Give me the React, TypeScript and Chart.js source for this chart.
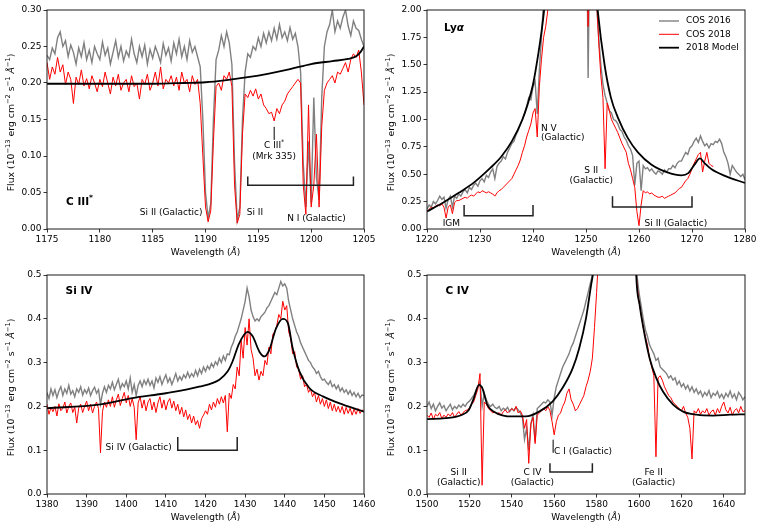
import React, { useEffect, useRef } from "react";
import { Chart, registerables } from "chart.js";
Chart.register(...registerables);

const FONT = "'DejaVu Sans', 'Liberation Sans', sans-serif";
const FS = 9;
const FSB = 10.5;

// ---------------- Panel 1: C III* ----------------
const c3Start = 1175;
const c3Step = 0.25;
const c3Cos2016 = [
  0.238, 0.232, 0.248, 0.240, 0.262, 0.270, 0.250, 0.258,
  0.236, 0.252, 0.242, 0.226, 0.248, 0.236, 0.255, 0.232,
  0.245, 0.228, 0.250, 0.240, 0.232, 0.256, 0.238, 0.248,
  0.226, 0.242, 0.258, 0.235, 0.250, 0.230, 0.244, 0.236,
  0.260, 0.240, 0.228, 0.250, 0.236, 0.252, 0.226, 0.246,
  0.234, 0.250, 0.240, 0.228, 0.254, 0.238, 0.248, 0.230,
  0.255, 0.240, 0.260, 0.236, 0.250, 0.232, 0.258, 0.242,
  0.250, 0.236, 0.222, 0.150, 0.050, 0.015, 0.035, 0.150,
  0.232, 0.245, 0.265, 0.250, 0.270, 0.255, 0.225, 0.090,
  0.012, 0.030, 0.150, 0.215, 0.240, 0.235, 0.250, 0.245,
  0.262, 0.250, 0.268, 0.255, 0.270, 0.258, 0.275, 0.260,
  0.280, 0.262, 0.270, 0.258, 0.276, 0.260, 0.268, 0.250,
  0.215, 0.090, 0.030, 0.120, 0.035, 0.180, 0.070, 0.040,
  0.180, 0.250, 0.270, 0.280, 0.300, 0.270, 0.285, 0.275,
  0.290, 0.300, 0.278, 0.265, 0.285, 0.275, 0.272, 0.260,
  0.250,
];
const c3Cos2018 = [
  0.228, 0.205, 0.222, 0.212, 0.235, 0.215, 0.225, 0.198,
  0.215, 0.205, 0.172, 0.208, 0.198, 0.218, 0.196, 0.206,
  0.192, 0.210, 0.200, 0.188, 0.205, 0.195, 0.215, 0.200,
  0.185, 0.208, 0.196, 0.212, 0.190, 0.200, 0.205, 0.188,
  0.210, 0.195, 0.200, 0.178, 0.205, 0.198, 0.212, 0.190,
  0.200, 0.215, 0.196, 0.222, 0.192, 0.205, 0.200, 0.210,
  0.196, 0.208, 0.190, 0.215, 0.200, 0.205, 0.188, 0.210,
  0.198, 0.205, 0.172, 0.100, 0.030, 0.010, 0.025, 0.120,
  0.195, 0.200, 0.190, 0.210, 0.205, 0.215, 0.195, 0.060,
  0.008, 0.020, 0.130, 0.185, 0.180, 0.190, 0.182, 0.192,
  0.178, 0.185, 0.170, 0.165, 0.158, 0.160, 0.148, 0.165,
  0.158, 0.170, 0.175, 0.185, 0.190, 0.195, 0.200, 0.205,
  0.200, 0.060, 0.020, 0.170, 0.030, 0.060, 0.130, 0.030,
  0.140, 0.190, 0.200, 0.205, 0.210, 0.200, 0.215, 0.212,
  0.220, 0.228, 0.215, 0.232, 0.240, 0.235, 0.245, 0.215,
  0.170,
];
const c3ModelWave = [1175, 1180, 1185, 1188, 1190, 1192, 1194, 1196, 1198, 1200, 1202, 1203.5, 1204.3, 1204.7, 1205];
const c3Model = [0.199, 0.199, 0.199, 0.2, 0.201, 0.204, 0.208, 0.213, 0.219, 0.226, 0.23, 0.233, 0.237, 0.243, 0.25];
const c3XTicks = [1175, 1180, 1185, 1190, 1195, 1200, 1205];
const c3YTicks = [0, 0.05, 0.1, 0.15, 0.2, 0.25, 0.3];

// ---------------- Panel 2: Ly alpha ----------------
const lyaStart = 1220;
const lyaStep = 0.4;
const lyaCos2016 = [
  0.18, 0.22, 0.20, 0.25, 0.23,
  0.26, 0.30, 0.27, 0.29, 0.19,
  0.27, 0.30, 0.20, 0.30, 0.28,
  0.32, 0.30, 0.34, 0.36, 0.33,
  0.38, 0.36, 0.40, 0.42, 0.39,
  0.44, 0.46, 0.43, 0.49, 0.47,
  0.52, 0.55, 0.46, 0.57, 0.60,
  0.62, 0.66, 0.64, 0.70, 0.74,
  0.78, 0.80, 0.86, 0.90, 0.95,
  1.00, 1.06, 1.12, 1.20, 1.18,
  1.30, 1.35, 1.05, 1.45, 1.75,
  2.10, 2.50, 2.80, 3.00, 3.20,
  3.50, 3.80, 4.00, 4.00, 4.00,
  4.00, 4.00, 4.00, 4.00, 4.00,
  4.00, 4.00, 4.00, 4.00, 4.00,
  3.50, 1.38, 3.00, 2.60, 2.30,
  2.05, 1.75, 1.50, 1.32, 1.22,
  1.15, 1.08, 1.06, 1.00, 0.99,
  0.96, 0.91, 0.89, 0.84, 0.81,
  0.76, 0.73, 0.67, 0.40, 0.60,
  0.62, 0.35, 0.58, 0.55, 0.56,
  0.53, 0.55, 0.52, 0.50, 0.53,
  0.52, 0.50, 0.54, 0.52, 0.55,
  0.55, 0.58, 0.56, 0.60, 0.62,
  0.62, 0.66, 0.70, 0.68, 0.74,
  0.76, 0.80, 0.83, 0.79, 0.85,
  0.80, 0.76, 0.78, 0.74, 0.78,
  0.77, 0.80, 0.79, 0.82, 0.78,
  0.70, 0.66, 0.60, 0.50, 0.58,
  0.55, 0.52, 0.50, 0.48, 0.50,
  0.45,
];
const lyaCos2018 = [
  0.16, 0.18, 0.20, 0.19, 0.21,
  0.22, 0.21, 0.23, 0.20, 0.10,
  0.20, 0.22, 0.14, 0.24, 0.26,
  0.26, 0.27, 0.28, 0.29, 0.28,
  0.30, 0.31, 0.30, 0.32, 0.34,
  0.33, 0.35, 0.34, 0.33, 0.34,
  0.33, 0.32, 0.30, 0.33, 0.35,
  0.36, 0.38, 0.40, 0.42, 0.44,
  0.46, 0.50, 0.54, 0.58, 0.63,
  0.70, 0.76, 0.84, 0.90, 0.96,
  1.06, 1.10, 0.84, 1.30, 1.55,
  1.75, 1.85, 2.00, 2.30, 2.80,
  3.00, 3.50, 4.00, 4.00, 4.00,
  4.00, 4.00, 4.00, 4.00, 4.00,
  4.00, 4.00, 4.00, 4.00, 4.00,
  3.00, 1.85, 3.00, 2.70, 2.40,
  2.10, 1.70, 1.40, 1.20, 0.55,
  1.15, 1.08, 1.00, 0.96, 0.92,
  0.88, 0.83, 0.78, 0.74, 0.70,
  0.60, 0.54, 0.46, 0.38, 0.16,
  0.03, 0.22, 0.35, 0.33, 0.34,
  0.32, 0.33, 0.31, 0.30, 0.29,
  0.29, 0.30, 0.28, 0.29, 0.30,
  0.31, 0.32, 0.33, 0.35, 0.37,
  0.38, 0.41, 0.44, 0.46, 0.50,
  0.55, 0.60, 0.64, 0.68, 0.70,
  0.52, 0.62, 0.70, 0.60, 0.58,
  0.57, null, null, null, null,
  null, null, null, null, null,
  null, null, null, null, null,
  null,
];
const lyaModelWave = [1220, 1223, 1226, 1229, 1232, 1234, 1236, 1238, 1239, 1240, 1241, 1241.6, 1242.1, 1242.6, 1244, 1247, 1250, 1251.5, 1252.2, 1253.5, 1254.7, 1256, 1257.9, 1259.8, 1262.3, 1265.5, 1268, 1269.3, 1270.5, 1271.5, 1272.4, 1273.7, 1276.2, 1280];
const lyaModel = [0.16, 0.24, 0.33, 0.43, 0.56, 0.66, 0.8, 1.0, 1.14, 1.32, 1.6, 1.8, 2.0, 2.3, 3.5, 6, 3.5, 2.4, 2.0, 1.5, 1.2, 1.02, 0.83, 0.7, 0.59, 0.515, 0.49, 0.51, 0.59, 0.645, 0.6, 0.545, 0.485, 0.42];
const lyaXTicks = [1220, 1230, 1240, 1250, 1260, 1270, 1280];
const lyaYTicks = [0, 0.25, 0.5, 0.75, 1, 1.25, 1.5, 1.75, 2];

// ---------------- Panel 3: Si IV ----------------
const si4Start = 1380;
const si4Step = 0.5;
const si4Cos2016 = [
  0.232, 0.218, 0.240, 0.225,
  0.238, 0.220, 0.235, 0.245,
  0.225, 0.240, 0.230, 0.248,
  0.228, 0.236, 0.222, 0.240,
  0.232, 0.245, 0.226, 0.238,
  0.230, 0.242, 0.225, 0.236,
  0.244, 0.230, 0.238, 0.205,
  0.230, 0.245, 0.232, 0.248,
  0.240, 0.255, 0.238, 0.250,
  0.262, 0.240, 0.252, 0.245,
  0.258, 0.240, 0.265, 0.232,
  0.250, 0.225, 0.248, 0.258,
  0.245, 0.260, 0.250, 0.262,
  0.248, 0.258, 0.242, 0.265,
  0.255, 0.268, 0.250, 0.262,
  0.272, 0.255, 0.265, 0.250,
  0.262, 0.275, 0.258, 0.268,
  0.260, 0.272, 0.265, 0.278,
  0.266, 0.275, 0.268, 0.282,
  0.270, 0.285, 0.275, 0.290,
  0.280, 0.292, 0.285, 0.298,
  0.290, 0.302, 0.295, 0.310,
  0.300, 0.315, 0.305, 0.320,
  0.318, 0.335, 0.345, 0.360,
  0.370, 0.385, 0.400, 0.420,
  0.440, 0.470, 0.450, 0.420,
  0.405, 0.395, 0.400, 0.395,
  0.405, 0.410, 0.415, 0.425,
  0.430, 0.440, 0.450, 0.460,
  0.455, 0.470, 0.485, 0.475,
  0.480, 0.470, 0.440, 0.420,
  0.400, 0.385, 0.370, 0.360,
  0.345, 0.335, 0.325, 0.315,
  0.305, 0.300, 0.290, 0.285,
  0.275, 0.280, 0.268, 0.260,
  0.262, 0.255, 0.250, 0.258,
  0.245, 0.250, 0.240, 0.248,
  0.235, 0.242, 0.232, 0.238,
  0.228, 0.236, 0.225, 0.232,
  0.222, 0.230, 0.220, 0.226,
  0.225,
];
const si4Cos2018 = [
  0.205, 0.182, 0.198, 0.188,
  0.200, 0.178, 0.206, 0.190,
  0.196, 0.210, 0.185, 0.200,
  0.208, 0.186, 0.198, 0.162,
  0.196, 0.205, 0.186, 0.200,
  0.212, 0.190, 0.205, 0.185,
  0.200, 0.210, 0.195, 0.094,
  0.188, 0.210, 0.198, 0.215,
  0.200, 0.222, 0.198, 0.215,
  0.228, 0.202, 0.218, 0.232,
  0.208, 0.225, 0.200, 0.218,
  0.198, 0.124, 0.208, 0.222,
  0.196, 0.215, 0.190, 0.210,
  0.218, 0.192, 0.210, 0.186,
  0.208, 0.222, 0.196, 0.215,
  0.192, 0.210, 0.218, 0.196,
  0.212, 0.190, 0.205, 0.182,
  0.198, 0.176, 0.192, 0.170,
  0.182, 0.162, 0.178, 0.158,
  0.168, 0.150, 0.172, 0.180,
  0.190, 0.182, 0.205, 0.192,
  0.210, 0.198, 0.218, 0.205,
  0.222, 0.208, 0.225, 0.142,
  0.230, 0.218, 0.250, 0.240,
  0.290, 0.270, 0.350, 0.310,
  0.380, 0.340, 0.400, 0.330,
  0.310, 0.270, 0.285, 0.260,
  0.280, 0.270, 0.305, 0.295,
  0.335, 0.320, 0.365, 0.370,
  0.385, 0.410, 0.400, 0.440,
  0.420, 0.430, 0.370, 0.355,
  0.320, 0.325, 0.290, 0.285,
  0.262, 0.270, 0.245, 0.250,
  0.232, 0.240, 0.222, 0.232,
  0.210, 0.225, 0.205, 0.218,
  0.200, 0.215, 0.195, 0.210,
  0.190, 0.205, 0.188, 0.200,
  0.186, 0.200, 0.182, 0.198,
  0.184, 0.196, 0.180, 0.194,
  0.182, 0.195, 0.184, 0.192,
  0.188,
];
const si4ModelWave = [1380, 1393, 1401.5, 1410, 1418.4, 1423.5, 1425.6, 1426.8, 1428.5, 1430.6, 1431.9, 1433.6, 1434.9, 1436.1, 1437.8, 1439.5, 1440.8, 1442, 1443.7, 1446.2, 1449.6, 1454.7, 1460];
const si4Model = [0.196, 0.204, 0.219, 0.23, 0.245, 0.261, 0.28, 0.302, 0.344, 0.37, 0.36, 0.325, 0.314, 0.329, 0.378, 0.4, 0.39, 0.333, 0.28, 0.242, 0.223, 0.204, 0.188];
const si4XTicks = [1380, 1390, 1400, 1410, 1420, 1430, 1440, 1450, 1460];
const si4YTicks = [0, 0.1, 0.2, 0.3, 0.4, 0.5];

// ---------------- Panel 4: C IV ----------------
const c4Start = 1500;
const c4Step = 1;
const c4Cos2016 = [
  0.200, 0.210, 0.195, 0.205, 0.190, 0.200, 0.208, 0.196, 0.202, 0.190,
  0.198, 0.205, 0.192, 0.200, 0.195, 0.203, 0.198, 0.205, 0.200, 0.208,
  0.212, 0.218, 0.225, 0.235, 0.245, 0.255, 0.200, 0.230, 0.215, 0.205,
  0.200, 0.205, 0.198, 0.195, 0.200, 0.190, 0.196, 0.192, 0.198, 0.188,
  0.195, 0.190, 0.198, 0.192, 0.185, 0.175, 0.125, 0.150, 0.100, 0.160,
  0.180, 0.120, 0.195, 0.200, 0.205, 0.210, 0.208, 0.215, 0.210, 0.180,
  0.220, 0.245, 0.260, 0.275, 0.290, 0.300, 0.310, 0.320, 0.335, 0.345,
  0.360, 0.375, 0.390, 0.405, 0.420, 0.440, 0.460, 0.480, 0.500, 0.520,
  0.550, 0.600, 0.700, 0.800, 0.900, 1.000, 1.000, 1.000, 1.000, 1.000,
  1.000, 1.000, 1.000, 1.000, 1.000, 1.000, 1.000, 0.700, 0.550, 0.500,
  0.460, 0.430, 0.400, 0.375, 0.360, 0.340, 0.330, 0.320, 0.305, 0.310,
  0.290, 0.285, 0.280, 0.275, 0.265, 0.270, 0.260, 0.265, 0.250, 0.258,
  0.245, 0.252, 0.240, 0.248, 0.235, 0.245, 0.232, 0.240, 0.228, 0.235,
  0.222, 0.232, 0.225, 0.236, 0.220, 0.230, 0.225, 0.234, 0.220, 0.228,
  0.218, 0.230, 0.222, 0.235, 0.220, 0.228, 0.215, 0.232, 0.225, 0.215,
  0.222,
];
const c4Cos2018 = [
  0.180, 0.175, 0.185, 0.170, 0.182, 0.178, 0.186, 0.172, 0.180, 0.175,
  0.183, 0.178, 0.186, 0.175, 0.182, 0.188, 0.180, 0.186, 0.190, 0.192,
  0.196, 0.205, 0.210, 0.225, 0.240, 0.275, 0.020, 0.210, 0.205, 0.195,
  0.190, 0.185, 0.188, 0.182, 0.186, 0.180, 0.188, 0.192, 0.185, 0.190,
  0.195, 0.190, 0.200, 0.185, 0.190, 0.180, 0.150, 0.170, 0.070, 0.160,
  0.175, 0.115, 0.180, 0.185, 0.190, 0.195, 0.190, 0.200, 0.190, 0.165,
  0.135, 0.165, 0.180, 0.185, 0.200, 0.210, 0.230, 0.240, 0.215, 0.205,
  0.190, 0.195, 0.205, 0.215, 0.225, 0.245, 0.260, 0.280, 0.310, 0.380,
  0.460, 0.550, 0.700, 0.850, 1.000, 1.000, 1.000, 1.000, 1.000, 1.000,
  1.000, 1.000, 1.000, 1.000, 1.000, 1.000, 1.000, 0.700, 0.550, 0.480,
  0.440, 0.410, 0.380, 0.360, 0.340, 0.310, 0.290, 0.270, 0.085, 0.265,
  0.270, 0.260, 0.245, 0.235, 0.225, 0.220, 0.210, 0.205, 0.200, 0.195,
  0.190, 0.200, 0.185, 0.175, 0.150, 0.080, 0.190, 0.185, 0.195, 0.182,
  0.190, 0.185, 0.195, 0.180, 0.188, 0.192, 0.180, 0.195, 0.185, 0.200,
  0.210, 0.192, 0.185, 0.198, 0.180, 0.190, 0.195, 0.185, 0.200, 0.188,
  0.190,
];
const c4ModelWave = [1500, 1508.7, 1516.6, 1519.7, 1522.1, 1524.5, 1526.1, 1528.4, 1531.6, 1540.3, 1546.6, 1552.9, 1559.2, 1563.9, 1568.7, 1571.8, 1575, 1577.4, 1578.2, 1581, 1585, 1590, 1595, 1598.7, 1600.3, 1601.8, 1605, 1608.2, 1611.3, 1616.1, 1620.8, 1627.1, 1635, 1642.9, 1650];
const c4Model = [0.171, 0.173, 0.181, 0.192, 0.219, 0.249, 0.242, 0.204, 0.188, 0.177, 0.177, 0.188, 0.211, 0.242, 0.287, 0.333, 0.401, 0.477, 0.5, 0.65, 1.2, 2, 1.2, 0.5, 0.432, 0.386, 0.31, 0.264, 0.234, 0.204, 0.188, 0.181, 0.179, 0.181, 0.182];
const c4XTicks = [1500, 1520, 1540, 1560, 1580, 1600, 1620, 1640];
const c4YTicks = [0, 0.1, 0.2, 0.3, 0.4, 0.5];

const legendLabels = ["COS 2016", "COS 2018", "2018 Model"];

// ---------------- helpers ----------------
type Seg = { t: string; b?: boolean; i?: boolean; sup?: boolean };
type TextAnn = { x: number; y: number; segs: Seg[]; align: "left" | "center" | "right"; size?: number };
type Bracket = { x1: number; x2: number; y: number; yEnd: number };
type VLine = { x: number; y1: number; y2: number };
type PanelCfg = {
  left: number; top: number; w: number; h: number; padRight: number; xAxisH: number;
  xMin: number; xMax: number; yMin: number; yMax: number; xTicks: number[]; yTicks: number[]; yDec: number;
  gray: { x: number; y: number | null }[]; red: { x: number; y: number | null }[]; model: { x: number; y: number }[];
  texts: TextAnn[]; brackets: Bracket[]; vlines: VLine[]; legend?: boolean;
};

const onGrid = (start: number, step: number, vals: (number | null)[]) =>
  vals.map((y, i) => ({ x: Math.round((start + i * step) * 1000) / 1000, y }));
const pairs = (xs: number[], ys: number[]) => xs.map((x, i) => ({ x, y: ys[i] }));

function fontStr(s: Seg, size: number) {
  const sz = s.sup ? size * 0.72 : size;
  return `${s.i ? "italic " : ""}${s.b ? "bold " : ""}${sz}px ${FONT}`;
}
function drawRich(ctx: CanvasRenderingContext2D, segs: Seg[], x: number, y: number, align: string, size: number) {
  let w = 0;
  for (const s of segs) { ctx.font = fontStr(s, size); w += ctx.measureText(s.t).width; }
  let cx = align === "left" ? x : align === "center" ? x - w / 2 : x - w;
  ctx.textAlign = "left";
  ctx.textBaseline = "middle";
  for (const s of segs) {
    ctx.font = fontStr(s, size);
    ctx.fillText(s.t, cx, s.sup ? y - size * 0.4 : y);
    cx += ctx.measureText(s.t).width;
  }
}

const xTitle: Seg[] = [{ t: "Wavelength (" }, { t: "Å", i: true }, { t: ")" }];
const yTitle: Seg[] = [
  { t: "Flux (10" }, { t: "−13", sup: true }, { t: " erg cm" }, { t: "−2", sup: true },
  { t: " s" }, { t: "−1", sup: true }, { t: " " }, { t: "Å", i: true }, { t: "−1", sup: true }, { t: ")" },
];

function annPlugin(cfg: PanelCfg) {
  return {
    id: "ann",
    afterDatasetsDraw(chart: any) {
      const { ctx, chartArea: a, scales } = chart;
      const xs = scales.x, ys = scales.y;
      const px = (v: number) => xs.getPixelForValue(v);
      const py = (v: number) => ys.getPixelForValue(v);
      ctx.save();
      ctx.strokeStyle = "#1a1a1a";
      ctx.lineWidth = 1;
      ctx.strokeRect(a.left, a.top, a.right - a.left, a.bottom - a.top);
      ctx.strokeStyle = "#222";
      ctx.lineWidth = 1.5;
      for (const b of cfg.brackets) {
        ctx.beginPath();
        ctx.moveTo(px(b.x1), py(b.yEnd));
        ctx.lineTo(px(b.x1), py(b.y));
        ctx.lineTo(px(b.x2), py(b.y));
        ctx.lineTo(px(b.x2), py(b.yEnd));
        ctx.stroke();
      }
      ctx.strokeStyle = "#000";
      ctx.lineWidth = 1;
      for (const l of cfg.vlines) {
        ctx.beginPath();
        ctx.moveTo(px(l.x), py(l.y1));
        ctx.lineTo(px(l.x), py(l.y2));
        ctx.stroke();
      }
      ctx.fillStyle = "#000";
      for (const t of cfg.texts) drawRich(ctx, t.segs, px(t.x), py(t.y), t.align, t.size ?? FS);
      if (cfg.legend) {
        const cols = ["#808080", "#ff0000", "#000000"];
        const lws = [1.4, 1, 1.8];
        const rows = [11, 24.3, 37.7];
        for (let i = 0; i < 3; i++) {
          const y = a.top + rows[i];
          ctx.strokeStyle = cols[i];
          ctx.lineWidth = lws[i];
          ctx.beginPath();
          ctx.moveTo(a.right - 86, y);
          ctx.lineTo(a.right - 66, y);
          ctx.stroke();
          ctx.fillStyle = "#000";
          drawRich(ctx, [{ t: legendLabels[i] }], a.right - 59, y, "left", FS);
        }
      }
      ctx.fillStyle = "#000";
      drawRich(ctx, xTitle, (a.left + a.right) / 2, a.bottom + 24, "center", FS);
      ctx.translate(12, (a.top + a.bottom) / 2 + 3);
      ctx.rotate(-Math.PI / 2);
      drawRich(ctx, yTitle, 0, 0, "center", 9.3);
      ctx.restore();
    },
  };
}

function buildConfig(cfg: PanelCfg): any {
  const tickFont = { family: FONT, size: FS };
  const grid = { drawOnChartArea: false, drawTicks: true, tickLength: 3.5, color: "#000", lineWidth: 0.8 };
  return {
    type: "line",
    data: {
      datasets: [
        { label: "2018 Model", data: cfg.model, borderColor: "#000", borderWidth: 1.8, pointRadius: 0, cubicInterpolationMode: "monotone", order: 0, clip: 0 },
        { label: "COS 2018", data: cfg.red, borderColor: "#ff0000", borderWidth: 1, pointRadius: 0, order: 1, clip: 0 },
        { label: "COS 2016", data: cfg.gray, borderColor: "#808080", borderWidth: 1.4, pointRadius: 0, order: 2, clip: 0 },
      ],
    },
    options: {
      responsive: false,
      animation: false,
      devicePixelRatio: 1,
      events: [],
      layout: { padding: { top: 10, right: cfg.padRight, left: 0, bottom: 0 } },
      plugins: { legend: { display: false }, tooltip: { enabled: false } },
      scales: {
        x: {
          type: "linear", min: cfg.xMin, max: cfg.xMax,
          afterBuildTicks: (s: any) => { s.ticks = cfg.xTicks.map((v) => ({ value: v })); },
          afterFit: (s: any) => { s.height = cfg.xAxisH; },
          grid, border: { display: false },
          ticks: { autoSkip: false, maxRotation: 0, padding: 2, color: "#000", font: tickFont, callback: (v: any) => String(v) },
        },
        y: {
          type: "linear", min: cfg.yMin, max: cfg.yMax,
          afterBuildTicks: (s: any) => { s.ticks = cfg.yTicks.map((v) => ({ value: v })); },
          afterFit: (s: any) => { s.width = 47; },
          grid, border: { display: false },
          ticks: { autoSkip: false, padding: 2, color: "#000", font: tickFont, callback: (v: any) => Number(v).toFixed(cfg.yDec) },
        },
      },
    },
    plugins: [annPlugin(cfg)],
  };
}

const panels: PanelCfg[] = [
  {
    left: 0, top: 0, w: 380, h: 262, padRight: 16, xAxisH: 33,
    xMin: 1175, xMax: 1205, yMin: 0, yMax: 0.3, xTicks: c3XTicks, yTicks: c3YTicks, yDec: 2,
    gray: onGrid(c3Start, c3Step, c3Cos2016), red: onGrid(c3Start, c3Step, c3Cos2018), model: pairs(c3ModelWave, c3Model),
    texts: [
      { x: 1176.8, y: 0.036, segs: [{ t: "C III", b: true }, { t: "*", b: true, sup: true }], align: "left", size: FSB },
      { x: 1186.75, y: 0.023, segs: [{ t: "Si II (Galactic)" }], align: "center" },
      { x: 1193.9, y: 0.023, segs: [{ t: "Si II" }], align: "left" },
      { x: 1196.5, y: 0.114, segs: [{ t: "C III" }, { t: "*", sup: true }], align: "center" },
      { x: 1196.5, y: 0.099, segs: [{ t: "(Mrk 335)" }], align: "center" },
      { x: 1200.5, y: 0.0137, segs: [{ t: "N I (Galactic)" }], align: "center" },
    ],
    brackets: [{ x1: 1194, x2: 1204, y: 0.06, yEnd: 0.072 }],
    vlines: [{ x: 1196.5, y1: 0.122, y2: 0.14 }],
  },
  {
    left: 380, top: 0, w: 380, h: 262, padRight: 15, xAxisH: 33,
    xMin: 1220, xMax: 1280, yMin: 0, yMax: 2, xTicks: lyaXTicks, yTicks: lyaYTicks, yDec: 2,
    gray: onGrid(lyaStart, lyaStep, lyaCos2016), red: onGrid(lyaStart, lyaStep, lyaCos2018), model: pairs(lyaModelWave, lyaModel),
    texts: [
      { x: 1223.2, y: 1.83, segs: [{ t: "Ly", b: true }, { t: "α", b: true, i: true }], align: "left", size: FSB },
      { x: 1241.5, y: 0.92, segs: [{ t: "N V" }], align: "left" },
      { x: 1241.5, y: 0.83, segs: [{ t: "(Galactic)" }], align: "left" },
      { x: 1251.0, y: 0.53, segs: [{ t: "S II" }], align: "center" },
      { x: 1251.0, y: 0.44, segs: [{ t: "(Galactic)" }], align: "center" },
      { x: 1224.6, y: 0.045, segs: [{ t: "IGM" }], align: "center" },
      { x: 1261.05, y: 0.045, segs: [{ t: "Si II (Galactic)" }], align: "left" },
    ],
    brackets: [
      { x1: 1227, x2: 1240, y: 0.12, yEnd: 0.22 },
      { x1: 1255, x2: 1270, y: 0.2, yEnd: 0.3 },
    ],
    vlines: [],
    legend: true,
  },
  {
    left: 0, top: 265, w: 380, h: 266, padRight: 16, xAxisH: 37,
    xMin: 1380, xMax: 1460, yMin: 0, yMax: 0.5, xTicks: si4XTicks, yTicks: si4YTicks, yDec: 1,
    gray: onGrid(si4Start, si4Step, si4Cos2016), red: onGrid(si4Start, si4Step, si4Cos2018), model: pairs(si4ModelWave, si4Model),
    texts: [
      { x: 1384.7, y: 0.462, segs: [{ t: "Si IV", b: true }], align: "left", size: FSB },
      { x: 1411.5, y: 0.106, segs: [{ t: "Si IV (Galactic)" }], align: "right" },
    ],
    brackets: [{ x1: 1413, x2: 1428, y: 0.1, yEnd: 0.13 }],
    vlines: [],
  },
  {
    left: 380, top: 265, w: 380, h: 266, padRight: 15, xAxisH: 37,
    xMin: 1500, xMax: 1650, yMin: 0, yMax: 0.5, xTicks: c4XTicks, yTicks: c4YTicks, yDec: 1,
    gray: onGrid(c4Start, c4Step, c4Cos2016), red: onGrid(c4Start, c4Step, c4Cos2018), model: pairs(c4ModelWave, c4Model),
    texts: [
      { x: 1508.7, y: 0.462, segs: [{ t: "C IV", b: true }], align: "left", size: FSB },
      { x: 1515, y: 0.048, segs: [{ t: "Si II" }], align: "center" },
      { x: 1515, y: 0.025, segs: [{ t: "(Galactic)" }], align: "center" },
      { x: 1549.7, y: 0.048, segs: [{ t: "C IV" }], align: "center" },
      { x: 1549.7, y: 0.025, segs: [{ t: "(Galactic)" }], align: "center" },
      { x: 1559.9, y: 0.097, segs: [{ t: "C I (Galactic)" }], align: "left" },
      { x: 1606.9, y: 0.048, segs: [{ t: "Fe II" }], align: "center" },
      { x: 1606.9, y: 0.025, segs: [{ t: "(Galactic)" }], align: "center" },
    ],
    brackets: [{ x1: 1558, x2: 1578, y: 0.05, yEnd: 0.07 }],
    vlines: [{ x: 1559.5, y1: 0.094, y2: 0.124 }],
  },
];

function Panel({ cfg }: { cfg: PanelCfg }) {
  const ref = useRef<HTMLCanvasElement>(null);
  useEffect(() => {
    const chart = new Chart(ref.current as HTMLCanvasElement, buildConfig(cfg));
    return () => chart.destroy();
  }, [cfg]);
  return (
    <canvas
      ref={ref}
      width={cfg.w}
      height={cfg.h}
      style={{ position: "absolute", left: cfg.left, top: cfg.top, width: cfg.w, height: cfg.h }}
    />
  );
}

export default function App() {
  return (
    <div style={{ position: "absolute", left: 0, top: 0, width: 763, height: 531, background: "#fff" }}>
      {panels.map((p, i) => (
        <Panel key={i} cfg={p} />
      ))}
    </div>
  );
}
